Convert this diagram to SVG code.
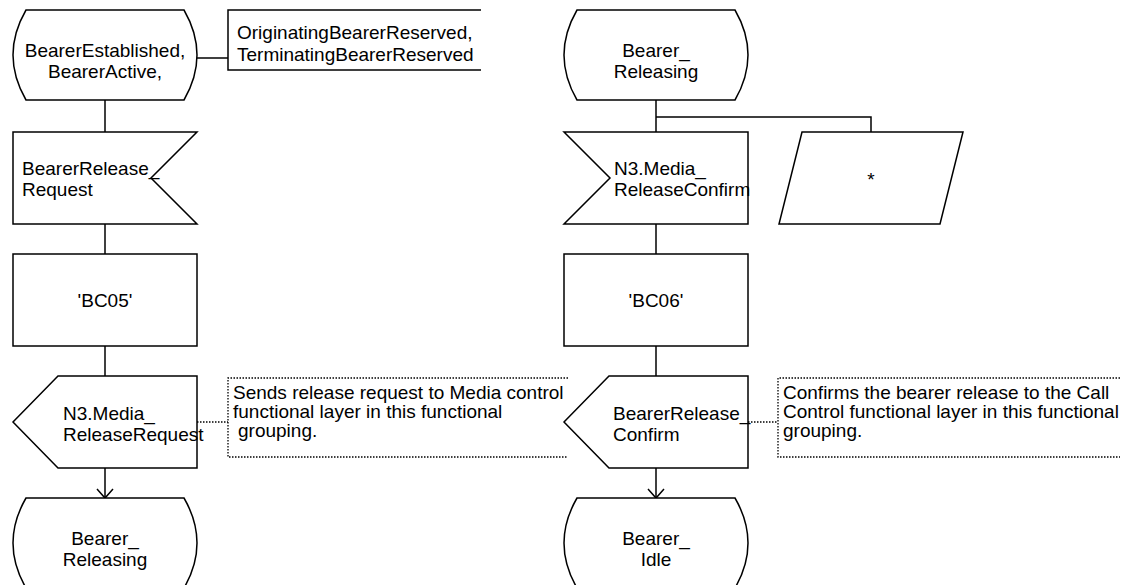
<svg xmlns="http://www.w3.org/2000/svg" width="1127" height="585" viewBox="0 0 1127 585">
<style>
.s{fill:#fff;stroke:#000;stroke-width:1.5}
.c{fill:none;stroke:#000;stroke-width:1.5}
.d{fill:none;stroke:#000;stroke-width:1.3;stroke-dasharray:1.5,1.5}
text{font-family:"Liberation Sans",Arial,sans-serif;font-size:19px;fill:#000}
.m{text-anchor:middle}
</style>
<defs>
<marker id="arr" markerUnits="userSpaceOnUse" markerWidth="20" markerHeight="20" viewBox="0 0 20 20" refX="10" refY="10" orient="auto">
<path d="M1,2 L10,10 L1,18" fill="none" stroke="#000" stroke-width="1.5"/>
</marker>
</defs>
<rect width="1127" height="585" fill="#fff"/>
<g id="connectors">
<line class="c" x1="105" y1="100" x2="105" y2="132"/>
<line class="c" x1="197" y1="58" x2="228" y2="58"/>
<line class="c" x1="105" y1="224" x2="105" y2="254"/>
<line class="c" x1="105" y1="346" x2="105" y2="376"/>
<line class="c" x1="105" y1="468" x2="105" y2="498" marker-end="url(#arr)"/>
<line class="d" x1="197" y1="422" x2="228" y2="422"/>
<line class="c" x1="656" y1="100" x2="656" y2="132"/>
<polyline class="c" points="656,117 871,117 871,132"/>
<line class="c" x1="656" y1="224" x2="656" y2="254"/>
<line class="c" x1="656" y1="346" x2="656" y2="376"/>
<line class="c" x1="656" y1="468" x2="656" y2="498" marker-end="url(#arr)"/>
<line class="d" x1="748" y1="422" x2="778" y2="422"/>
</g>
<g id="state1">
<path class="s" d="M26,10 H184 Q210,55 184,100 H26 Q0,55 26,10 Z"/>
<text class="m" x="105" y="57">BearerEstablished,</text>
<text class="m" x="105" y="78">BearerActive,</text>
</g>
<g id="stateText1">
<path class="c" d="M481,10 H228 V70 H481"/>
<text x="237" y="39">OriginatingBearerReserved,</text>
<text x="237" y="61">TerminatingBearerReserved</text>
</g>
<g id="input1">
<path class="s" d="M13,132 H197 L151,178 L197,224 H13 Z"/>
<text x="22" y="175">BearerRelease_</text>
<text x="22" y="196">Request</text>
</g>
<g id="task1">
<rect class="s" x="13" y="254" width="184" height="92"/>
<text class="m" x="105" y="307">'BC05'</text>
</g>
<g id="output1">
<path class="s" d="M58,376 H197 V468 H58 L13,422 Z"/>
<text x="63" y="420">N3.Media_</text>
<text x="63" y="441">ReleaseRequest</text>
</g>
<g id="comment1">
<path class="d" d="M568,378 H228 V457 H568"/>
<text x="233" y="399">Sends release request to Media control</text>
<text x="233" y="418">functional layer in this functional</text>
<text x="238" y="437">grouping.</text>
</g>
<g id="state2">
<path class="s" d="M26,498 H184 Q210,543 184,588 H26 Q0,543 26,498 Z"/>
<text class="m" x="105" y="545">Bearer_</text>
<text class="m" x="105" y="566">Releasing</text>
</g>
<g id="state3">
<path class="s" d="M577,10 H735 Q761,55 735,100 H577 Q551,55 577,10 Z"/>
<text class="m" x="656" y="57">Bearer_</text>
<text class="m" x="656" y="78">Releasing</text>
</g>
<g id="input2">
<path class="s" d="M564,132 H748 V224 H564 L610,178 Z"/>
<text x="614" y="175">N3.Media_</text>
<text x="614" y="196">ReleaseConfirm</text>
</g>
<g id="save1">
<path class="s" d="M802,132 H963 L940,224 H779 Z"/>
<text class="m" x="871" y="186">*</text>
</g>
<g id="task2">
<rect class="s" x="564" y="254" width="184" height="92"/>
<text class="m" x="656" y="307">'BC06'</text>
</g>
<g id="output2">
<path class="s" d="M609,376 H748 V468 H609 L564,422 Z"/>
<text x="613" y="420">BearerRelease_</text>
<text x="613" y="441">Confirm</text>
</g>
<g id="comment2">
<path class="d" d="M1120,378 H778 V457 H1120"/>
<text x="783" y="399">Confirms the bearer release to the Call</text>
<text x="783" y="418">Control functional layer in this functional</text>
<text x="783" y="437">grouping.</text>
</g>
<g id="state4">
<path class="s" d="M577,498 H735 Q761,543 735,588 H577 Q551,543 577,498 Z"/>
<text class="m" x="656" y="545">Bearer_</text>
<text class="m" x="656" y="566">Idle</text>
</g>
</svg>
